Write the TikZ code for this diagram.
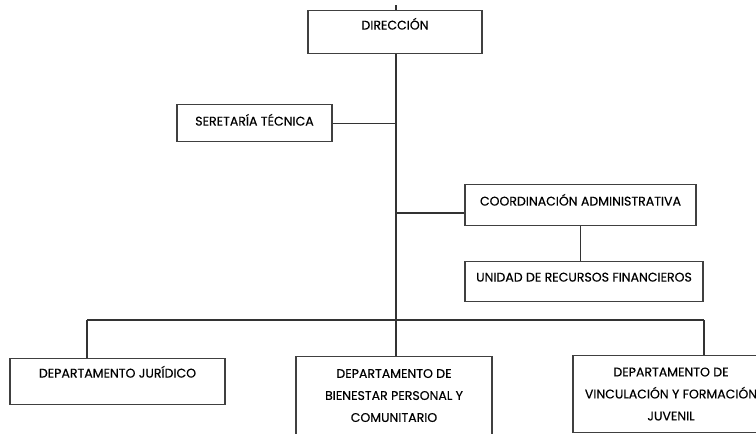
\documentclass[tikz,border=0pt]{standalone}
\usepackage{fontspec}
\setmainfont{Poppins}[FakeBold=0.35]
\begin{document}
\begin{tikzpicture}[x=0.75pt,y=-0.75pt,
      caja/.style={draw=black!75,line width=0.8pt,fill=white,inner sep=0pt,
        align=center,anchor=north,font=\fontsize{9.4}{16.5}\selectfont},
      linea/.style={draw=black!80,line width=0.8pt}]
    \clip (0,0) rectangle (756,433);
    \fill[white] (0,0) rectangle (756,433);
    % cajas
    \node[caja,minimum width=130.5pt,text height=14.25pt,text depth=18pt]
        (dir) at (395,10) {DIRECCIÓN};
    \node[caja,minimum width=116.25pt,text height=15.75pt,text depth=12pt]
        (sec) at (254.5,104) {SERETARÍA TÉCNICA};
    \node[caja,minimum width=173.25pt,text height=15.75pt,text depth=15pt]
        (coord) at (580.5,184) {COORDINACIÓN ADMINISTRATIVA};
    \node[caja,minimum width=178.5pt,text height=15pt,text depth=15pt]
        (unidad) at (584,261) {UNIDAD DE RECURSOS FINANCIEROS};
    \node[caja,minimum width=161.25pt,text height=14.25pt,text depth=20.25pt]
        (jur) at (117.5,358) {DEPARTAMENTO JURÍDICO};
    \node[caja,minimum width=147pt,minimum height=58.5pt]
        (bien) at (394,356) {DEPARTAMENTO DE\\BIENESTAR PERSONAL Y\\COMUNITARIO};
    \node[caja,minimum width=147pt,minimum height=57.75pt]
        (vinc) at (671,355) {DEPARTAMENTO DE\\VINCULACIÓN Y FORMACIÓN\\JUVENIL};
    % conectores
    \coordinate (tope) at (396,5);
    \coordinate (bus) at (396,320);
    \coordinate (cruce) at (396,213);
    \coordinate (izq) at (87,320);
    \coordinate (der) at (704,320);
    \draw[linea] (tope) -- (tope |- dir.north);
    \draw[linea] (dir.south -| tope) -- (bus);
    \draw[linea] (sec.east) -- (sec.east -| bus);
    \draw[linea] (cruce) -- (cruce -| coord.west);
    \draw[linea] (coord.south) -- (coord.south |- unidad.north);
    \draw[linea] (izq) -- (der);
    \draw[linea] (izq) -- (izq |- jur.north);
    \draw[linea] (bus) -- (bus |- bien.north);
    \draw[linea] (der) -- (der |- vinc.north);
\end{tikzpicture}
\end{document}
